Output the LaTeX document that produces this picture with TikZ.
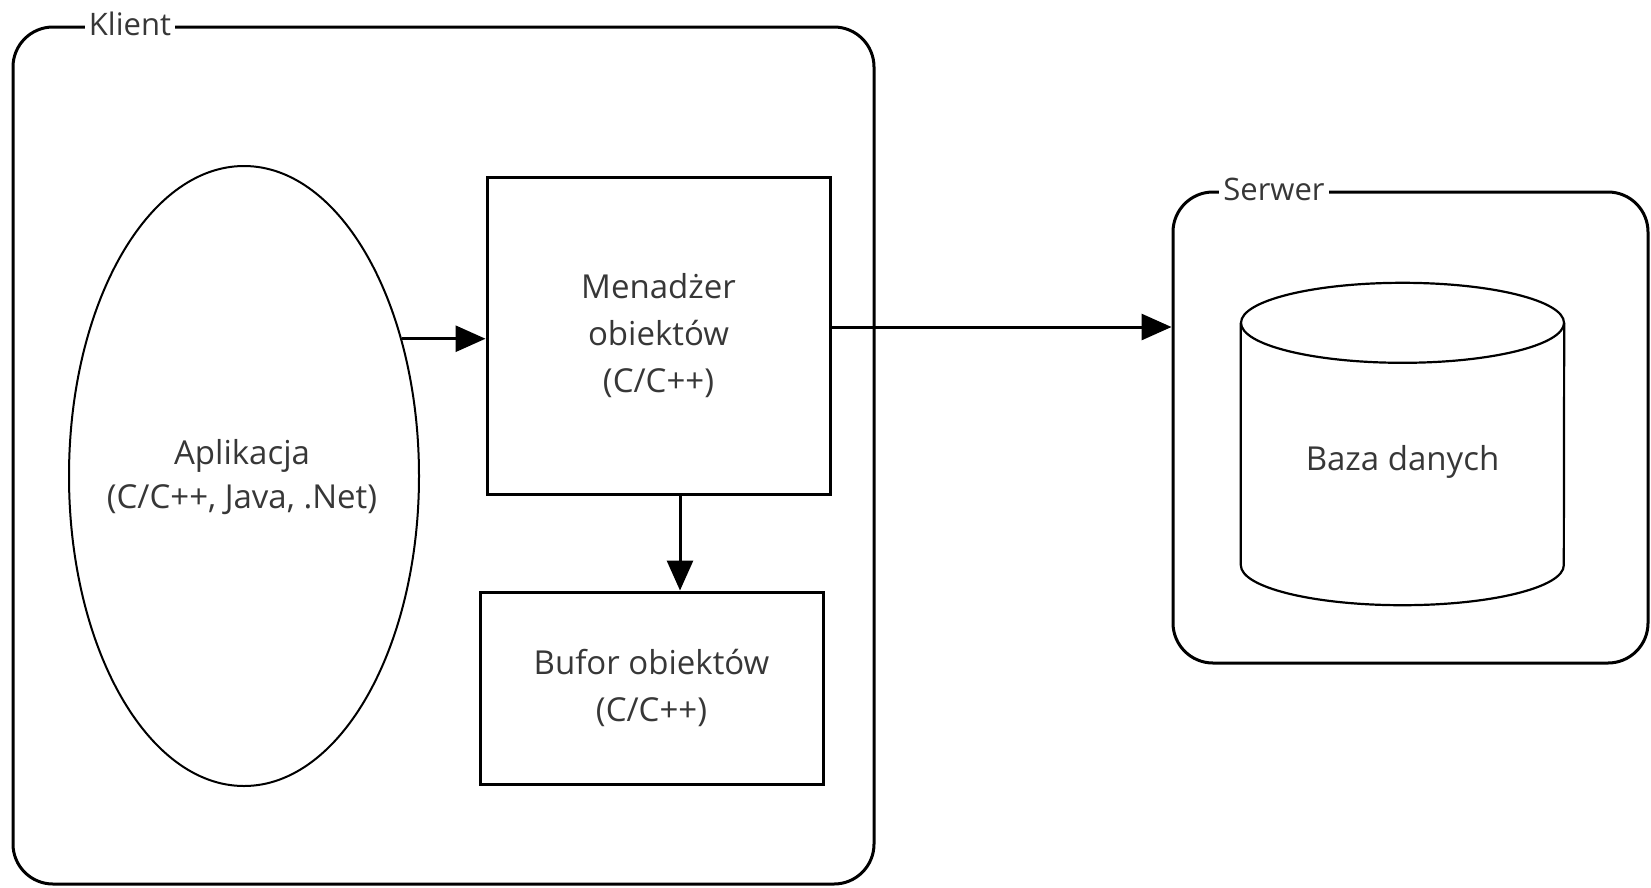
\documentclass[tikz,border=0pt]{standalone}
\usepackage{fontspec}
\setmainfont{Open Sans}
\usetikzlibrary{arrows.meta,shapes.geometric}
\definecolor{txt}{RGB}{55,55,55}

\begin{document}
\begin{tikzpicture}[x=1pt,y=-1pt,
  frame/.style={draw, line width=3pt, rounded corners=40pt, inner sep=0pt},
  framelabel/.style={fill=white, text=txt, inner xsep=4pt, inner ysep=0pt,
    font=\fontsize{31}{46}\selectfont},
  box/.style={draw, line width=3pt, align=center, text=txt, inner sep=0pt,
    font=\fontsize{33}{47}\selectfont},
  plain/.style={align=center, text=txt, inner sep=0pt,
    font=\fontsize{33}{44}\selectfont},
  cyl/.style={line width=2.2pt},
  arr/.style={-{Triangle[length=30pt,width=26pt]}, line width=3pt}]
\useasboundingbox (0,0) rectangle (1651,887);

% client side
\node[frame, minimum width=861pt, minimum height=857pt] (klient) at (443.5,455.5) {};
\node[framelabel] (klientlbl) at (130,24) {Klient};

\node[draw, ellipse, line width=2pt, inner sep=0pt,
      minimum width=350pt, minimum height=620pt] (app) at (244,476) {};
\node[plain] (apptext) at (242,477) {Aplikacja\\(C/C++, Java, .Net)};

\node[box, minimum width=343pt, minimum height=317pt] (mgr) at (658.5,335.5)
  {Menadżer\\obiektów\\(C/C++)};
\node[box, minimum width=343pt, minimum height=192pt] (bufor) at (651.5,688)
  {Bufor obiektów\\(C/C++)};

% server side
\node[frame, minimum width=475pt, minimum height=471pt] (serwer) at (1410.5,427.5) {};
\node[framelabel] (serwerlbl) at (1274,189) {Serwer};

\node[inner sep=0pt, minimum width=323pt, minimum height=242pt] (db) at (1402.5,444) {};
\draw[cyl] (db.north) ellipse [x radius=161.5pt, y radius=40pt];
\draw[cyl] (db.north west) -- (db.south west)
  arc [start angle=180, end angle=360, x radius=161.5pt, y radius=40pt]
  -- (db.north east);
\node[plain] (dbtext) at (1402.5,462) {Baza danych};

% connectors
\draw[arr] (app.41.4) -- (app.41.4 -| mgr.west);
\draw[arr] ([xshift=21.5pt]mgr.south) -- ([xshift=21.5pt]mgr.south |- bufor.north);
\draw[arr] ([yshift=8.5pt]mgr.east) -- ([yshift=8.5pt]mgr.east -| serwer.west);
\end{tikzpicture}
\end{document}
